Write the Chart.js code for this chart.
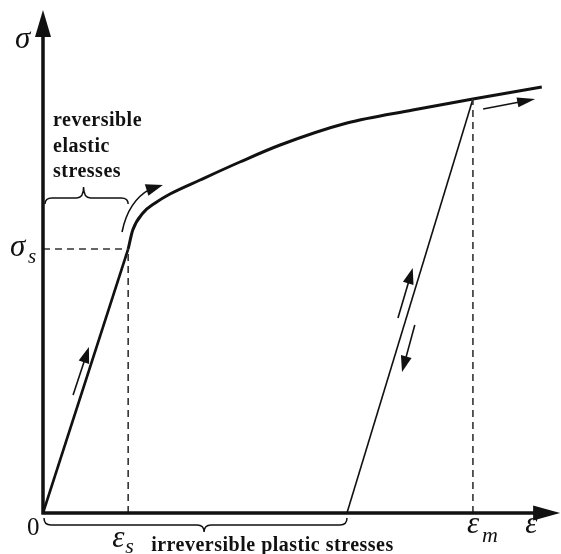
<!DOCTYPE html>
<html>
<head>
<meta charset="utf-8">
<script src="https://cdn.jsdelivr.net/npm/chart.js@4.4.0/dist/chart.umd.min.js"></script>
<style>
  html, body { margin: 0; padding: 0; background: #fff; }
</style>
</head>
<body>
<canvas id="chart" width="561" height="554"></canvas>
<script>
// strain ε (x) and stress σ (y), arbitrary units 0-100
const elasticX = [0, 16.7]
const elasticY = [0, 52.8]
const plasticX = [16.7, 17.6, 19.6, 22.0, 24.9, 30.8, 38.6, 46.5, 59.6, 72.5, 84.3, 97.8]
const plasticY = [52.8, 56.6, 60.0, 62.0, 63.8, 66.6, 70.2, 73.6, 78.0, 80.6, 82.8, 85.2]
const unloadX = [84.3, 59.6]
const unloadY = [82.8, 0]

const epsS = 16.7
const sigmaS = 52.8
const epsM = 84.3

// direction arrows beside the curve: [start, end]
const loadArrow = [[5.9, 23.6], [9.0, 33.2]]
const reloadArrow = [[69.6, 39.0], [72.5, 49.0]]
const unloadArrow = [[72.9, 37.6], [70.4, 28.2]]
const flowArrow = [[86.3, 80.8], [96.5, 82.8]]
// curved arrow at the yield bend: start, control, tip
const yieldArrow = [[15.5, 56.2], [16.7, 62.4], [23.5, 65.6]]

const xLabels = ['0', 'ε', 'ε', 'ε']
const yLabels = ['σ', 'σ']

const pts = (xs, ys) => xs.map((v, i) => ({ x: v, y: ys[i] }))

const ink = '#111'
const dash = '#333'

function head(ctx, tx, ty, ang, len, hw) {
  ctx.save()
  ctx.translate(tx, ty)
  ctx.rotate(ang)
  ctx.beginPath()
  ctx.moveTo(0, 0)
  ctx.lineTo(-len, -hw)
  ctx.lineTo(-len, hw)
  ctx.closePath()
  ctx.fill()
  ctx.restore()
}

function brace(ctx, x1, x2, xm, yEnd, yFlat, yPeak) {
  const r = 7
  ctx.beginPath()
  ctx.moveTo(x1, yEnd)
  ctx.quadraticCurveTo(x1, yFlat, x1 + r, yFlat)
  ctx.lineTo(xm - r, yFlat)
  ctx.quadraticCurveTo(xm, yFlat, xm, yPeak)
  ctx.quadraticCurveTo(xm, yFlat, xm + r, yFlat)
  ctx.lineTo(x2 - r, yFlat)
  ctx.quadraticCurveTo(x2, yFlat, x2, yEnd)
  ctx.stroke()
}

const sketch = {
  id: 'sketch',
  afterDatasetsDraw(chart) {
    const { ctx, scales: { x, y } } = chart
    const px = v => x.getPixelForValue(v)
    const py = v => y.getPixelForValue(v)
    const x0 = px(0), y0 = py(0)

    ctx.save()
    ctx.strokeStyle = ink
    ctx.fillStyle = ink
    ctx.lineCap = 'butt'

    // axes
    ctx.lineWidth = 3.5
    ctx.beginPath()
    ctx.moveTo(x0, y0 + 1.5)
    ctx.lineTo(x0, py(97))
    ctx.moveTo(x0 - 1.5, y0)
    ctx.lineTo(px(96.5), y0)
    ctx.stroke()
    head(ctx, x0, py(100.6), -Math.PI / 2, 27, 8)
    head(ctx, px(101.4), y0, 0, 27, 7.5)

    // straight direction arrows
    ctx.lineWidth = 1.6
    const straight = (a, len, hw) => {
      const [s, e] = a
      const sx = px(s[0]), sy = py(s[1]), ex = px(e[0]), ey = py(e[1])
      const ang = Math.atan2(ey - sy, ex - sx)
      ctx.beginPath()
      ctx.moveTo(sx, sy)
      ctx.lineTo(ex - Math.cos(ang) * len * 0.8, ey - Math.sin(ang) * len * 0.8)
      ctx.stroke()
      head(ctx, ex, ey, ang, len, hw)
    }
    straight(loadArrow, 16, 5.5)
    straight(reloadArrow, 16, 5.5)
    straight(unloadArrow, 16, 5.5)
    straight(flowArrow, 18, 5)

    // curved arrow at the yield point
    const [a, c, b] = yieldArrow
    const bx = px(b[0]), by = py(b[1])
    const ang = Math.atan2(-5, 16)
    ctx.beginPath()
    ctx.moveTo(px(a[0]), py(a[1]))
    ctx.quadraticCurveTo(px(c[0]), py(c[1]), bx - Math.cos(ang) * 13, by - Math.sin(ang) * 13)
    ctx.stroke()
    head(ctx, bx, by, ang, 17, 6)

    // braces
    ctx.lineWidth = 1.5
    brace(ctx, x0 + 2, px(epsS), (x0 + px(epsS)) / 2 - 2, 204, 198, 187)
    brace(ctx, x0 + 1, px(unloadX[1]), px(unloadX[1] * 0.53), y0 + 5, y0 + 12, y0 + 19)

    // labels
    ctx.textBaseline = 'alphabetic'
    ctx.textAlign = 'left'
    const greek = s => `italic ${s}px "Liberation Serif", "DejaVu Serif", serif`
    ctx.font = greek(31)
    ctx.fillText(yLabels[0], x0 - 28, 48)
    ctx.fillText(yLabels[1], x0 - 33, py(sigmaS) + 7)
    ctx.font = greek(21)
    ctx.fillText('s', x0 - 15, py(sigmaS) + 14)

    ctx.font = '25px "Liberation Serif", serif'
    ctx.fillText(xLabels[0], x0 - 16, y0 + 22)

    ctx.font = greek(31)
    ctx.fillText(xLabels[1], px(epsS) - 16, y0 + 34)
    ctx.fillText(xLabels[2], px(epsM) - 6, y0 + 20)
    ctx.fillText(xLabels[3], px(96.5) - 10, y0 + 20)
    ctx.font = greek(22)
    ctx.fillText('s', px(epsS) - 3, y0 + 40)
    ctx.fillText('m', px(epsM) + 9, y0 + 29)

    ctx.letterSpacing = '0.5px'
    ctx.font = 'bold 20px "Liberation Serif", serif'
    ctx.fillText('reversible', 53, 126)
    ctx.fillText('elastic', 53, 152)
    ctx.fillText('stresses', 53, 177)
    ctx.fillText('irreversible plastic stresses', px(epsS) + 23, 551)
    ctx.restore()
  }
}

const dashed = (xs, ys) => ({
  data: pts(xs, ys),
  borderColor: dash,
  borderWidth: 1.6,
  borderDash: [7, 5],
  pointRadius: 0,
  clip: false
})

new Chart(document.getElementById('chart'), {
  type: 'line',
  data: {
    datasets: [
      dashed([0, epsS], [sigmaS, sigmaS]),
      dashed([epsS, epsS], [0, sigmaS]),
      dashed([epsM, epsM], [0, unloadY[0]]),
      {
        data: pts(elasticX, elasticY),
        borderColor: ink,
        borderWidth: 2.6,
        pointRadius: 0,
        clip: false
      },
      {
        data: pts(plasticX, plasticY),
        borderColor: ink,
        borderWidth: 3,
        pointRadius: 0,
        cubicInterpolationMode: 'monotone',
        clip: false
      },
      {
        data: pts(unloadX, unloadY),
        borderColor: ink,
        borderWidth: 1.6,
        pointRadius: 0,
        clip: false
      }
    ]
  },
  options: {
    responsive: false,
    animation: false,
    layout: { padding: { left: 43, top: 13, right: 8, bottom: 41 } },
    scales: {
      x: { type: 'linear', min: 0, max: 100, display: false },
      y: { type: 'linear', min: 0, max: 100, display: false }
    },
    plugins: {
      legend: { display: false },
      tooltip: { enabled: false }
    }
  },
  plugins: [sketch]
})
</script>
</body>
</html>
